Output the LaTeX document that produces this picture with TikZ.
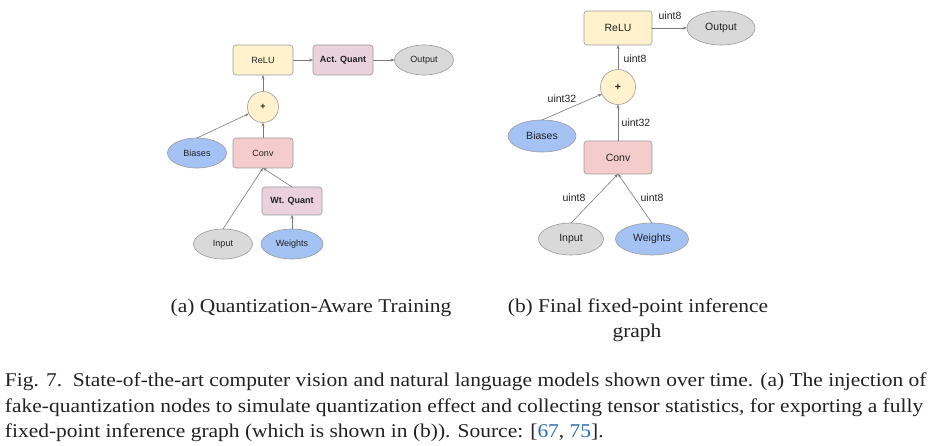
\documentclass[tikz,border=0pt]{standalone}
\usepackage{fontspec}
\setmainfont[FakeStretch=1.1]{Liberation Serif}
\newfontfamily\diagfont{Liberation Sans}
\usetikzlibrary{arrows.meta,shapes.geometric}
\definecolor{yel}{HTML}{FFF2CC}
\definecolor{pinkc}{HTML}{F4CCCC}
\definecolor{quantc}{HTML}{EAD1DC}
\definecolor{bluec}{HTML}{A4C2F4}
\definecolor{grayc}{HTML}{D9D9D9}
\definecolor{edgec}{HTML}{9A9A9A}
\definecolor{arrc}{HTML}{7A7A7A}
\definecolor{citec}{HTML}{2A6CB0}
\definecolor{txtc}{HTML}{222222}
\tikzset{
  every node/.style={inner sep=0pt, outer sep=0pt, text=txtc},
  opbox/.style={draw=edgec, line width=0.6pt, rounded corners=3pt, minimum width=60pt, minimum height=30pt, font=\diagfont\fontsize{9}{11}\selectfont},
  opboxb/.style={opbox, minimum width=68pt, minimum height=34pt, font=\diagfont\fontsize{10.5}{12}\selectfont},
  tens/.style={draw=edgec, line width=0.6pt, ellipse, minimum width=59pt, minimum height=30pt, font=\diagfont\fontsize{9}{11}\selectfont},
  tensb/.style={tens, minimum width=68pt, minimum height=32pt, font=\diagfont\fontsize{10.5}{12}\selectfont},
  addc/.style={draw=edgec, line width=0.6pt, circle, fill=yel, minimum size=31pt, font=\diagfont\fontsize{9}{11}\selectfont},
  addcb/.style={addc, minimum size=35pt, font=\diagfont\fontsize{10.5}{12}\selectfont},
  flow/.style={draw=arrc, line width=0.6pt, -{Stealth[length=4pt,width=3pt]}},
  lbl/.style={font=\diagfont\fontsize{10.5}{12}\selectfont},
  captext/.style={font=\fontsize{19.5}{24}\selectfont, anchor=base},
  captextl/.style={font=\fontsize{19.5}{24}\selectfont, anchor=base west}
}
\begin{document}
\begin{tikzpicture}[x=1pt,y=-1pt]
\useasboundingbox (0,0) rectangle (943,446);
% ---------- (a) ----------
\node[opbox, fill=yel] (reluA) at (263,60) {ReLU};
\node[opbox, fill=quantc] (aq) at (343,60) {\bfseries Act. Quant};
\node[tens, fill=grayc] (outA) at (424,60) {Output};
\node[addc] (plusA) at (263,107) {\bfseries +};
\node[opbox, fill=pinkc] (convA) at (263,153) {Conv};
\node[tens, fill=bluec] (biasA) at (197,153) {Biases};
\node[opbox, fill=quantc, minimum height=28pt] (wq) at (292,201) {\bfseries Wt. Quant};
\node[tens, fill=grayc] (inA) at (223,244) {Input};
\node[tens, fill=bluec, minimum width=62pt] (wA) at (292,244) {Weights};
\draw[flow] (reluA) -- (aq);
\draw[flow] (aq) -- (outA);
\draw[flow] (plusA) -- (reluA);
\draw[flow] (convA) -- (plusA);
\draw[flow] (biasA.north) -- (plusA);
\draw[flow] (inA.north) -- (convA.south);
\draw[flow] (wq.north) -- (convA.south);
\draw[flow] (wA) -- (wq);
% ---------- (b) ----------
\node[opboxb, fill=yel] (reluB) at (618,28) {ReLU};
\node[tensb, fill=grayc, minimum height=34pt] (outB) at (721,28) {Output};
\node[addcb] (plusB) at (618,87) {\bfseries +};
\node[tensb, fill=bluec] (biasB) at (542,136) {Biases};
\node[opboxb, fill=pinkc, minimum height=33pt] (convB) at (618,157.5) {Conv};
\node[tensb, fill=grayc, minimum width=65pt] (inB) at (571,239) {Input};
\node[tensb, fill=bluec, minimum width=73pt] (wB) at (652,239) {Weights};
\draw[flow] (reluB) -- (outB);
\node[lbl] (t1) at (670,16) {uint8};
\draw[flow] (plusB) -- (reluB);
\node[lbl] (t2) at (635,59) {uint8};
\draw[flow] (convB) -- (plusB);
\node[lbl] (t3) at (636,123) {uint32};
\draw[flow] (biasB.north) -- (plusB);
\node[lbl] (t4) at (562,99) {uint32};
\draw[flow] (inB.north) -- (convB.south);
\draw[flow] (wB.north) -- (convB.south);
\node[lbl] (t5) at (574,198) {uint8};
\node[lbl] (t6) at (652,198) {uint8};
% ---------- captions ----------
\node[captext] (capa) at (311,313) {(a) Quantization-Aware Training};
\node[captext] (capb) at (638,313) {(b) Final fixed-point inference};
\node[captext] (capb2) at (637,338) {graph};
\node[captextl] (c1) at (5,387) {Fig. 7.\ \ State-of-the-art computer vision and natural language models shown over time. (a) The injection of};
\node[captextl] (c2) at (5,413) {fake-quantization nodes to simulate quantization effect and collecting tensor statistics, for exporting a fully};
\node[captextl] (c3) at (5,438) {fixed-point inference graph (which is shown in (b)). Source: [{\color{citec}67}, {\color{citec}75}].};
\end{tikzpicture}
\end{document}
